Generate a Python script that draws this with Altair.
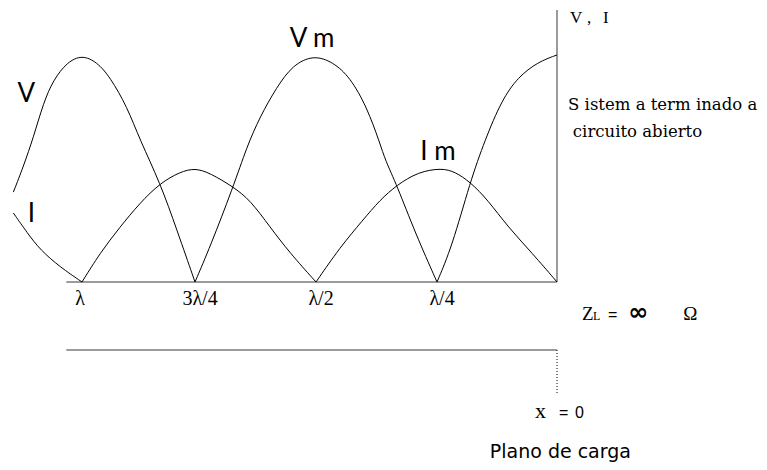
import altair as alt
import pandas as pd

# distance from the load (in wavelengths) and normalised amplitude
V_d = [1.153, 1.131, 1.108, 1.086, 1.064, 1.033, 1.0, 0.967, 0.938, 0.900, 0.872, 0.827,
       0.790, 0.75, 0.719, 0.671, 0.643, 0.616, 0.581, 0.548, 0.505, 0.465, 0.430, 0.395,
       0.368, 0.357, 0.333, 0.295, 0.25, 0.219, 0.181, 0.150, 0.115, 0.081, 0.040, 0.0]
V_a = [0.396, 0.507, 0.639, 0.789, 0.890, 0.969, 1.0, 0.969, 0.903, 0.771, 0.626, 0.436,
       0.229, 0.0, 0.154, 0.419, 0.595, 0.727, 0.859, 0.956, 1.0, 0.969, 0.903, 0.771,
       0.612, 0.537, 0.427, 0.216, 0.0, 0.154, 0.441, 0.626, 0.802, 0.903, 0.969, 1.0]
I_d = [1.153, 1.122, 1.093, 1.049, 1.0, 0.960, 0.916, 0.872, 0.827, 0.783, 0.75, 0.719,
       0.671, 0.636, 0.595, 0.554, 0.5, 0.450, 0.403, 0.368, 0.333, 0.289, 0.240, 0.2125,
       0.181, 0.144, 0.102, 0.052, 0.0]
I_a = [0.304, 0.216, 0.141, 0.066, 0.0, 0.128, 0.242, 0.348, 0.436, 0.485, 0.502, 0.480,
       0.419, 0.361, 0.242, 0.128, 0.0, 0.154, 0.273, 0.361, 0.427, 0.485, 0.502, 0.485,
       0.441, 0.361, 0.242, 0.128, 0.0]

tick_d = [1.0, 0.75, 0.5, 0.25]
tick_labels = ["λ", "3λ/4", "λ/2", "λ/4"]

line_start = 1.035      # left end of the horizontal lines
axis_top = 1.198        # top of the V, I axis
line2_a = -0.2996       # lower horizontal line
dot_end = -0.498        # end of dotted x = 0 marker


def segments(name, ds, as_):
    rows, seg = [], 0
    for i, (d, a) in enumerate(zip(ds, as_)):
        rows.append({"curve": name, "seg": f"{name}{seg}", "d": d, "a": a})
        if a == 0.0 and 0 < i < len(ds) - 1:
            seg += 1
            rows.append({"curve": name, "seg": f"{name}{seg}", "d": d, "a": a})
    return rows


curves = pd.DataFrame(segments("V", V_d, V_a) + segments("I", I_d, I_a))

xs = alt.Scale(domain=[-0.42, 0, 0.25, 0.5, 0.75, 1.0, 1.165],
               range=[751, 549, 429, 308, 187, 74, 0], nice=False, zero=False)
ys = alt.Scale(domain=[-0.793, 1.207], nice=False, zero=False)

X = alt.X("d:Q", scale=xs, axis=None)
Y = alt.Y("a:Q", scale=ys, axis=None)

curve_layer = alt.Chart(curves).mark_line(
    color="black", strokeWidth=1, interpolate="basis"
).encode(x=X, y=Y, detail="seg:N", order="d:Q")

hlines = pd.DataFrame({"d": [line_start, line_start], "d2": [0.0, 0.0], "a": [0.0, line2_a]})
hline_layer = alt.Chart(hlines).mark_rule(color="#7a7a7a", strokeWidth=1.5).encode(
    x=X, x2="d2:Q", y=Y)

vaxis = pd.DataFrame({"d": [0.0], "a": [0.0], "a2": [axis_top]})
vaxis_layer = alt.Chart(vaxis).mark_rule(color="#7a7a7a", strokeWidth=1.5).encode(
    x=X, y=Y, y2="a2:Q")

dots = pd.DataFrame({"d": [0.0], "a": [line2_a], "a2": [dot_end]})
dots_layer = alt.Chart(dots).mark_rule(color="black", strokeWidth=1, strokeDash=[1, 2]).encode(
    x=X, y=Y, y2="a2:Q")

ticks = pd.DataFrame({"d": tick_d, "a": [0.0] * 4, "t": tick_labels})
tick_first = alt.Chart(ticks.iloc[:1]).mark_text(
    font="Liberation Serif", fontSize=20, align="center", baseline="alphabetic",
    dx=-2, dy=23, color="black").encode(x=X, y=Y, text="t:N")
tick_rest = alt.Chart(ticks.iloc[1:]).mark_text(
    font="Liberation Serif", fontSize=20, align="center", baseline="alphabetic",
    dx=5, dy=23, color="black").encode(x=X, y=Y, text="t:N")


def txt(rows, font, size, weight="normal", align="left"):
    df = pd.DataFrame(rows, columns=["t", "d", "a"])
    return alt.Chart(df).mark_text(
        font=font, fontSize=size, fontWeight=weight, align=align,
        baseline="alphabetic", color="black").encode(x=X, y=Y, text="t:N")


gothic = txt([["V", 1.124, 0.793], ["I", 1.113, 0.264], ["V m", 0.508, 1.035],
              ["I m", 0.248, 0.537]], "Lato", 26, align="center")
plano = txt([["Plano de carga", 0.140, -0.775]], "DejaVu Sans", 19)
serif_small = txt([["V", -0.027, 1.141], [",", -0.0625, 1.141], ["I", -0.0958, 1.141]],
                  "Liberation Serif", 17)
zed = txt([["Z", -0.052, -0.167]], "Liberation Serif", 19)
ex = txt([["x", 0.0458, -0.599]], "Liberation Serif", 22)
sans_small = txt([["=", -0.106, -0.167], ["=", -0.004, -0.599], ["0", -0.0375, -0.599]],
                 "Liberation Sans", 16)
sub = txt([["L", -0.075, -0.167]], "Liberation Serif", 12)
serif = txt([["S istem a term inado a", -0.023, 0.758], ["circuito abierto", -0.033, 0.639]],
            "DejaVu Serif", 16.5)
omega = txt([["Ω", -0.2625, -0.167]], "Liberation Serif", 19)
inf = txt([["∞", -0.148, -0.167]], "DejaVu Sans", 24, weight="bold")

chart = alt.layer(
    hline_layer, vaxis_layer, dots_layer, curve_layer, tick_first, tick_rest,
    gothic, plano, serif_small, zed, ex, sans_small, sub, serif, omega, inf
).properties(
    width=751, height=454, padding=0,
    autosize=alt.AutoSizeParams(type="none"), background="white"
).configure_view(stroke=None)

chart.save("out.html", embed_options={"renderer": "svg", "actions": False})
